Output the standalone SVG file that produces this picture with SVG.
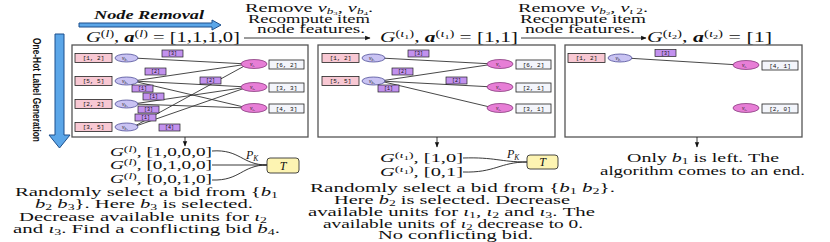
<svg xmlns="http://www.w3.org/2000/svg" width="830" height="242" viewBox="0 0 830 242">
<defs>
<style>
.t{font-family:"Liberation Serif","Times New Roman","DejaVu Serif",serif;fill:#111}
.i{font-style:italic}
.frame{fill:#fff;stroke:#555;stroke-width:1.3}
.bid{fill:#f8c8d3;stroke:#222;stroke-width:0.8}
.item{fill:#f3f5fb;stroke:#222;stroke-width:0.8}
.vb{fill:#c9c3f3;stroke:#3a3a8a;stroke-width:0.7}
.vi{fill:#e77ed6;stroke:#7a2a70;stroke-width:0.7}
.lab{fill:#c291ee;stroke:#222;stroke-width:0.7}
.bt{font-family:"Liberation Mono","DejaVu Sans Mono",monospace;font-size:6px;fill:#111;text-anchor:middle}
.lt{font-family:"Liberation Mono","DejaVu Sans Mono",monospace;font-size:5px;fill:#111;text-anchor:middle}
.et{font-family:"Liberation Serif",serif;font-style:italic;font-size:5.5px;fill:#222}
.edge{stroke:#333;stroke-width:0.9;fill:none}
.conn{stroke:#222;stroke-width:0.9;fill:none}
.blue{fill:#5ba6e8;stroke:#1d4f8c;stroke-width:1}
.tbox{fill:#fdf4b2;stroke:#333;stroke-width:0.9}
</style>
<marker id="ah" viewBox="0 0 10 10" refX="9" refY="5" markerWidth="6" markerHeight="6" orient="auto"><path d="M0,1 L10,5 L0,9 z" fill="#111"/></marker>
</defs>
<rect width="830" height="242" fill="#fff"/>

<g id="node-removal">
<text class="t" x="94" y="19" font-size="13" font-weight="bold" font-style="italic" textLength="110" lengthAdjust="spacingAndGlyphs">Node Removal</text>
<polygon class="blue" points="79,23 212,23 212,20 221,25 212,30 212,27 79,27"/>
</g>

<g id="onehot">
<polygon class="blue" points="55,34 64,34 64,135 70,135 59.5,148 49,135 55,135"/>
<text transform="translate(33,90) rotate(90)" font-family="Liberation Sans,Arial,sans-serif" font-weight="bold" font-size="11" text-anchor="middle" textLength="104" lengthAdjust="spacingAndGlyphs" fill="#111">One-Hot Label Generation</text>
</g>

<g id="title1">
<text class="t" x="86" y="42" font-size="14" textLength="154" lengthAdjust="spacingAndGlyphs"><tspan class="i">G</tspan><tspan dy="-5" font-size="9.5">(<tspan class="i">l</tspan>)</tspan><tspan dy="5">, </tspan><tspan font-weight="bold" class="i">a</tspan><tspan dy="-5" font-size="9.5">(<tspan class="i">l</tspan>)</tspan><tspan dy="5"> = [1,1,1,0]</tspan></text>
</g>
<g id="title2">
<text class="t" x="380" y="42" font-size="14" textLength="138" lengthAdjust="spacingAndGlyphs"><tspan class="i">G</tspan><tspan dy="-5" font-size="9.5">(<tspan class="i">ι</tspan><tspan dy="2" font-size="6.5">1</tspan><tspan dy="-2">)</tspan></tspan><tspan dy="5">, </tspan><tspan font-weight="bold" class="i">a</tspan><tspan dy="-5" font-size="9.5">(<tspan class="i">ι</tspan><tspan dy="2" font-size="6.5">1</tspan><tspan dy="-2">)</tspan></tspan><tspan dy="5"> = [1,1]</tspan></text>
</g>
<g id="title3">
<text class="t" x="647" y="42" font-size="14" textLength="125" lengthAdjust="spacingAndGlyphs"><tspan class="i">G</tspan><tspan dy="-5" font-size="9.5">(<tspan class="i">ι</tspan><tspan dy="2" font-size="6.5">2</tspan><tspan dy="-2">)</tspan></tspan><tspan dy="5">, </tspan><tspan font-weight="bold" class="i">a</tspan><tspan dy="-5" font-size="9.5">(<tspan class="i">ι</tspan><tspan dy="2" font-size="6.5">2</tspan><tspan dy="-2">)</tspan></tspan><tspan dy="5"> = [1]</tspan></text>
</g>

<g id="step1-note" class="t" font-size="11.5" text-anchor="middle">
<text x="309" y="12" textLength="128" lengthAdjust="spacingAndGlyphs">Remove <tspan class="i">v</tspan><tspan dy="2" font-size="7.5" class="i">b</tspan><tspan dy="1" font-size="5">3</tspan><tspan dy="-3">, </tspan><tspan class="i">v</tspan><tspan dy="2" font-size="7.5" class="i">b</tspan><tspan dy="1" font-size="5">4</tspan><tspan dy="-3">.</tspan></text>
<text x="309" y="23" textLength="122" lengthAdjust="spacingAndGlyphs">Recompute item</text>
<text x="311" y="33" textLength="108" lengthAdjust="spacingAndGlyphs">node features.</text>
</g>
<g id="step2-note" class="t" font-size="11.5" text-anchor="middle">
<text x="583" y="12" textLength="130" lengthAdjust="spacingAndGlyphs">Remove <tspan class="i">v</tspan><tspan dy="2" font-size="7.5" class="i">b</tspan><tspan dy="1" font-size="5">2</tspan><tspan dy="-3">, </tspan><tspan class="i">v</tspan><tspan dy="2" font-size="7.5" class="i">ι</tspan><tspan font-size="7.5"> 2</tspan><tspan dy="-2">.</tspan></text>
<text x="583" y="23" textLength="126" lengthAdjust="spacingAndGlyphs">Recompute item</text>
<text x="580" y="33" textLength="110" lengthAdjust="spacingAndGlyphs">node features.</text>
</g>

<g id="panel1"><rect class="frame" x="72" y="45" width="236" height="92"/></g>
<g id="panel2"><rect class="frame" x="318" y="45" width="237" height="92"/></g>
<g id="panel3"><rect class="frame" x="565" y="45" width="237" height="92"/></g>

<g id="connectors">
<line class="conn" x1="244" y1="38" x2="370" y2="38" marker-end="url(#ah)"/>
<line class="conn" x1="521" y1="38" x2="646" y2="38" marker-end="url(#ah)"/>
<line class="edge" x1="133" y1="58" x2="248" y2="64"/>
<line class="edge" x1="133" y1="81" x2="248" y2="64"/>
<line class="edge" x1="133" y1="81" x2="248" y2="87"/>
<line class="edge" x1="133" y1="81" x2="248" y2="108"/>
<line class="edge" x1="133" y1="104" x2="248" y2="108"/>
<line class="edge" x1="133" y1="104" x2="248" y2="87"/>
<line class="edge" x1="133" y1="127" x2="248" y2="64"/>
<line class="edge" x1="133" y1="127" x2="248" y2="87"/>
<line class="edge" x1="380" y1="58" x2="494" y2="64"/>
<line class="edge" x1="380" y1="81" x2="494" y2="64"/>
<line class="edge" x1="380" y1="81" x2="494" y2="87"/>
<line class="edge" x1="380" y1="81" x2="494" y2="108"/>
<line class="edge" x1="626" y1="58" x2="740" y2="65"/>
<line class="conn" x1="185" y1="137" x2="185" y2="146" marker-end="url(#ah)"/>
<line class="conn" x1="437" y1="137" x2="437" y2="147" marker-end="url(#ah)"/>
<line class="conn" x1="697" y1="137" x2="697" y2="147" marker-end="url(#ah)"/>
<path class="conn" d="M212,151 C240,149 242,165 267,165"/>
<path class="conn" d="M212,165 L267,165"/>
<path class="conn" d="M212,180 C240,181 242,165 267,165"/>
<path class="conn" d="M463,158 C495,157 500,162 527,162"/>
<path class="conn" d="M463,172 C495,173 500,162 527,162"/>
</g>

<g id="p1-bid1"><rect class="bid" x="75" y="53.5" width="37" height="9"/><text class="bt" x="93.5" y="60">[1, 2]</text><ellipse class="vb" cx="126.5" cy="58" rx="11.5" ry="4"/><text class="et" x="122" y="59.5">v<tspan font-size="3.8" dy="1">b</tspan><tspan font-size="2.8" dy="0.7">1</tspan></text></g>
<g id="p1-bid2"><rect class="bid" x="75" y="76.5" width="37" height="9"/><text class="bt" x="93.5" y="83">[5, 5]</text><ellipse class="vb" cx="126.5" cy="81" rx="11.5" ry="4"/><text class="et" x="122" y="82.5">v<tspan font-size="3.8" dy="1">b</tspan><tspan font-size="2.8" dy="0.7">2</tspan></text></g>
<g id="p1-bid3"><rect class="bid" x="75" y="99.5" width="37" height="9"/><text class="bt" x="93.5" y="106">[2, 2]</text><ellipse class="vb" cx="126.5" cy="104" rx="11.5" ry="4"/><text class="et" x="122" y="105.5">v<tspan font-size="3.8" dy="1">b</tspan><tspan font-size="2.8" dy="0.7">3</tspan></text></g>
<g id="p1-bid4"><rect class="bid" x="75" y="122.5" width="37" height="9"/><text class="bt" x="93.5" y="129">[3, 5]</text><ellipse class="vb" cx="126.5" cy="127" rx="11.5" ry="4"/><text class="et" x="122" y="128.5">v<tspan font-size="3.8" dy="1">b</tspan><tspan font-size="2.8" dy="0.7">4</tspan></text></g>
<g id="p1-item1"><ellipse class="vi" cx="254" cy="64" rx="13" ry="4.5"/><text class="et" x="250" y="65.5">v<tspan font-size="3.8" dy="1">ι</tspan><tspan font-size="2.8" dy="0.7">1</tspan></text><rect class="item" x="269" y="60" width="35" height="9"/><text class="bt" x="286.5" y="66.5">[6, 2]</text></g>
<g id="p1-item2"><ellipse class="vi" cx="254" cy="87" rx="13" ry="4.5"/><text class="et" x="250" y="88.5">v<tspan font-size="3.8" dy="1">ι</tspan><tspan font-size="2.8" dy="0.7">2</tspan></text><rect class="item" x="269" y="83" width="35" height="9"/><text class="bt" x="286.5" y="89.5">[3, 3]</text></g>
<g id="p1-item3"><ellipse class="vi" cx="254" cy="108" rx="13" ry="4.5"/><text class="et" x="250" y="109.5">v<tspan font-size="3.8" dy="1">ι</tspan><tspan font-size="2.8" dy="0.7">3</tspan></text><rect class="item" x="269" y="104" width="35" height="9"/><text class="bt" x="286.5" y="110.5">[4, 3]</text></g>
<g id="p1-labels">
<rect class="lab" x="162" y="50" width="21" height="7"/><text class="lt" x="172.5" y="55.3">[3]</text>
<rect class="lab" x="145" y="68" width="21" height="7"/><text class="lt" x="155.5" y="73.3">[2]</text>
<rect class="lab" x="200" y="77" width="21" height="7"/><text class="lt" x="210.5" y="82.3">[2]</text>
<rect class="lab" x="132" y="85" width="21" height="7"/><text class="lt" x="142.5" y="90.3">[1]</text>
<rect class="lab" x="143" y="93" width="21" height="7"/><text class="lt" x="153.5" y="98.3">[1]</text>
<rect class="lab" x="138" y="106" width="21" height="7"/><text class="lt" x="148.5" y="111.3">[3]</text>
<rect class="lab" x="135" y="114" width="21" height="7"/><text class="lt" x="145.5" y="119.3">[1]</text>
<rect class="lab" x="159" y="124" width="21" height="7"/><text class="lt" x="169.5" y="129.3">[4]</text>
</g>

<g id="p2-bid1"><rect class="bid" x="322" y="53.5" width="37" height="9"/><text class="bt" x="340.5" y="60">[1, 2]</text><ellipse class="vb" cx="373.5" cy="58" rx="11.5" ry="4"/><text class="et" x="369" y="59.5">v<tspan font-size="3.8" dy="1">b</tspan><tspan font-size="2.8" dy="0.7">1</tspan></text></g>
<g id="p2-bid2"><rect class="bid" x="322" y="76.5" width="37" height="9"/><text class="bt" x="340.5" y="83">[5, 5]</text><ellipse class="vb" cx="373.5" cy="81" rx="11.5" ry="4"/><text class="et" x="369" y="82.5">v<tspan font-size="3.8" dy="1">b</tspan><tspan font-size="2.8" dy="0.7">2</tspan></text></g>
<g id="p2-item1"><ellipse class="vi" cx="500" cy="64" rx="13" ry="4.5"/><text class="et" x="496" y="65.5">v<tspan font-size="3.8" dy="1">ι</tspan><tspan font-size="2.8" dy="0.7">1</tspan></text><rect class="item" x="516" y="60" width="35" height="9"/><text class="bt" x="533.5" y="66.5">[6, 2]</text></g>
<g id="p2-item2"><ellipse class="vi" cx="500" cy="87" rx="13" ry="4.5"/><text class="et" x="496" y="88.5">v<tspan font-size="3.8" dy="1">ι</tspan><tspan font-size="2.8" dy="0.7">2</tspan></text><rect class="item" x="516" y="83" width="35" height="9"/><text class="bt" x="533.5" y="89.5">[2, 1]</text></g>
<g id="p2-item3"><ellipse class="vi" cx="500" cy="108" rx="13" ry="4.5"/><text class="et" x="496" y="109.5">v<tspan font-size="3.8" dy="1">ι</tspan><tspan font-size="2.8" dy="0.7">3</tspan></text><rect class="item" x="516" y="104" width="35" height="9"/><text class="bt" x="533.5" y="110.5">[3, 1]</text></g>
<g id="p2-labels">
<rect class="lab" x="408" y="50" width="21" height="7"/><text class="lt" x="418.5" y="55.3">[3]</text>
<rect class="lab" x="392" y="68" width="21" height="7"/><text class="lt" x="402.5" y="73.3">[2]</text>
<rect class="lab" x="446" y="77" width="21" height="7"/><text class="lt" x="456.5" y="82.3">[2]</text>
<rect class="lab" x="378" y="85" width="21" height="7"/><text class="lt" x="388.5" y="90.3">[1]</text>
</g>

<g id="p3-bid1"><rect class="bid" x="568" y="53.5" width="37" height="9"/><text class="bt" x="586.5" y="60">[1, 2]</text><ellipse class="vb" cx="620" cy="58" rx="12" ry="4"/><text class="et" x="615.5" y="59.5">v<tspan font-size="3.8" dy="1">b</tspan><tspan font-size="2.8" dy="0.7">1</tspan></text></g>
<g id="p3-item1"><ellipse class="vi" cx="746" cy="65" rx="13" ry="4.5"/><text class="et" x="742" y="66.5">v<tspan font-size="3.8" dy="1">ι</tspan><tspan font-size="2.8" dy="0.7">1</tspan></text><rect class="item" x="762" y="61" width="36" height="9"/><text class="bt" x="780" y="67.5">[4, 1]</text></g>
<g id="p3-item3"><ellipse class="vi" cx="746" cy="108" rx="13" ry="4.5"/><text class="et" x="742" y="109.5">v<tspan font-size="3.8" dy="1">ι</tspan><tspan font-size="2.8" dy="0.7">3</tspan></text><rect class="item" x="762" y="104" width="36" height="9"/><text class="bt" x="780" y="110.5">[2, 0]</text></g>
<g id="p3-labels">
<rect class="lab" x="655" y="49.5" width="21" height="7"/><text class="lt" x="665.5" y="54.8">[3]</text>
</g>

<g id="onehot1" class="t" font-size="12">
<text x="110" y="156" textLength="102" lengthAdjust="spacingAndGlyphs"><tspan class="i">G</tspan><tspan dy="-4" font-size="8.5">(<tspan class="i">l</tspan>)</tspan><tspan dy="4">, [1,0,0,0]</tspan></text>
<text x="110" y="169" textLength="102" lengthAdjust="spacingAndGlyphs"><tspan class="i">G</tspan><tspan dy="-4" font-size="8.5">(<tspan class="i">l</tspan>)</tspan><tspan dy="4">, [0,1,0,0]</tspan></text>
<text x="110" y="183" textLength="102" lengthAdjust="spacingAndGlyphs"><tspan class="i">G</tspan><tspan dy="-4" font-size="8.5">(<tspan class="i">l</tspan>)</tspan><tspan dy="4">, [0,0,1,0]</tspan></text>
</g>
<g id="T1"><rect class="tbox" x="267" y="158" width="32" height="15" rx="3"/><text class="t i" x="283" y="169.5" font-size="12" text-anchor="middle">T</text><text class="t i" x="246" y="159" font-size="12">P<tspan font-size="7.5" dy="2">K</tspan></text></g>

<g id="onehot2" class="t" font-size="12">
<text x="380" y="162" textLength="83" lengthAdjust="spacingAndGlyphs"><tspan class="i">G</tspan><tspan dy="-4" font-size="8.5">(<tspan class="i">ι</tspan><tspan dy="2" font-size="6">1</tspan><tspan dy="-2">)</tspan></tspan><tspan dy="4">, [1,0]</tspan></text>
<text x="380" y="176" textLength="83" lengthAdjust="spacingAndGlyphs"><tspan class="i">G</tspan><tspan dy="-4" font-size="8.5">(<tspan class="i">ι</tspan><tspan dy="2" font-size="6">1</tspan><tspan dy="-2">)</tspan></tspan><tspan dy="4">, [0,1]</tspan></text>
</g>
<g id="T2"><rect class="tbox" x="527" y="155" width="31" height="14" rx="3"/><text class="t i" x="542.5" y="166" font-size="12" text-anchor="middle">T</text><text class="t i" x="507" y="158" font-size="12">P<tspan font-size="7.5" dy="2">K</tspan></text></g>

<g id="desc1" class="t" font-size="12">
<text x="15" y="196" textLength="263" lengthAdjust="spacingAndGlyphs">Randomly select a bid from {<tspan class="i">b</tspan><tspan font-size="8" dy="1.5">1</tspan></text>
<text x="35" y="208" textLength="218" lengthAdjust="spacingAndGlyphs"><tspan class="i">b</tspan><tspan font-size="8" dy="1.5">2</tspan><tspan dy="-1.5">  </tspan><tspan class="i">b</tspan><tspan font-size="8" dy="1.5">3</tspan><tspan dy="-1.5">}. Here </tspan><tspan class="i">b</tspan><tspan font-size="8" dy="1.5">3</tspan><tspan dy="-1.5"> is selected.</tspan></text>
<text x="19" y="221" textLength="248" lengthAdjust="spacingAndGlyphs">Decrease available units for <tspan class="i">ι</tspan><tspan font-size="8" dy="1.5">2</tspan></text>
<text x="13" y="233" textLength="267" lengthAdjust="spacingAndGlyphs">and <tspan class="i">ι</tspan><tspan font-size="8" dy="1.5">3</tspan><tspan dy="-1.5">. Find a conflicting bid </tspan><tspan class="i">b</tspan><tspan font-size="8" dy="1.5">4</tspan><tspan dy="-1.5">.</tspan></text>
</g>
<g id="desc2" class="t" font-size="12">
<text x="310" y="192" textLength="305" lengthAdjust="spacingAndGlyphs">Randomly select a bid from {<tspan class="i">b</tspan><tspan font-size="8" dy="1.5">1</tspan><tspan dy="-1.5">  </tspan><tspan class="i">b</tspan><tspan font-size="8" dy="1.5">2</tspan><tspan dy="-1.5">}.</tspan></text>
<text x="334" y="204" textLength="236" lengthAdjust="spacingAndGlyphs">Here <tspan class="i">b</tspan><tspan font-size="8" dy="1.5">2</tspan><tspan dy="-1.5"> is selected. Decrease</tspan></text>
<text x="308" y="216" textLength="287" lengthAdjust="spacingAndGlyphs">available units for <tspan class="i">ι</tspan><tspan font-size="8" dy="1.5">1</tspan><tspan dy="-1.5">, </tspan><tspan class="i">ι</tspan><tspan font-size="8" dy="1.5">2</tspan><tspan dy="-1.5"> and </tspan><tspan class="i">ι</tspan><tspan font-size="8" dy="1.5">3</tspan><tspan dy="-1.5">. The</tspan></text>
<text x="323" y="228" textLength="260" lengthAdjust="spacingAndGlyphs">available units of <tspan class="i">ι</tspan><tspan font-size="8" dy="1.5">2</tspan><tspan dy="-1.5"> decrease to 0.</tspan></text>
<text x="378" y="239" textLength="155" lengthAdjust="spacingAndGlyphs">No conflicting bid.</text>
</g>
<g id="desc3" class="t" font-size="12">
<text x="627" y="162" textLength="152" lengthAdjust="spacingAndGlyphs">Only <tspan class="i">b</tspan><tspan font-size="8" dy="1.5">1</tspan><tspan dy="-1.5"> is left. The</tspan></text>
<text x="600" y="175" textLength="205" lengthAdjust="spacingAndGlyphs">algorithm comes to an end.</text>
</g>
</svg>
